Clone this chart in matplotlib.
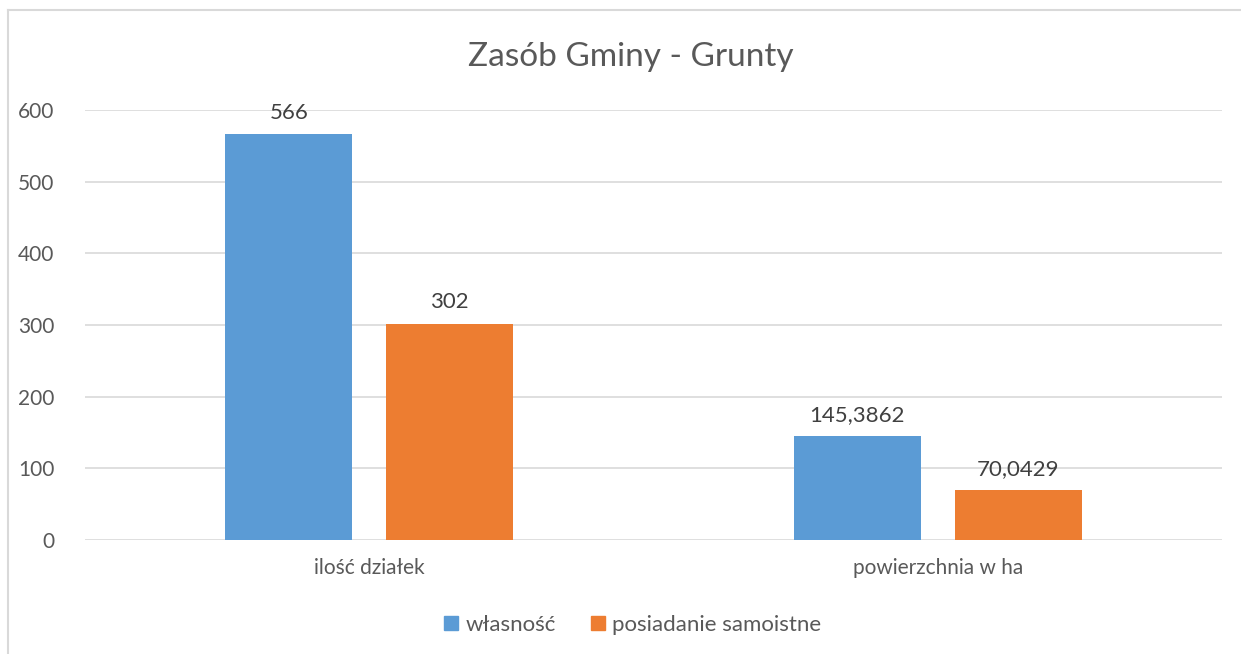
import matplotlib.pyplot as plt
import numpy as np
from matplotlib.lines import Line2D

kategorie = ['ilość działek', 'powierzchnia w ha']
wlasnosc = [566, 145.3862]
posiadanie = [302, 70.0429]
etykiety_wl = ['566', '145,3862']
etykiety_pos = ['302', '70,0429']
serie = ['własność', 'posiadanie samoistne']

plt.rcParams['font.family'] = ['Lato', 'DejaVu Sans']
szary = '#595959'

fig = plt.figure(figsize=(12.41, 6.54), dpi=100)
ax = fig.add_axes([0.0685, 0.1743, 0.9162, 0.6575])

x = np.arange(len(kategorie))
szer = 0.2234
b1 = ax.bar(x - 0.1416, wlasnosc, szer, color='#5B9BD5', label=serie[0], zorder=3)
b2 = ax.bar(x + 0.1416, posiadanie, szer, color='#ED7D31', label=serie[1], zorder=3)

ax.bar_label(b1, labels=etykiety_wl, padding=8, fontsize=16, color='#404040')
ax.bar_label(b2, labels=etykiety_pos, padding=8, fontsize=16, color='#404040')

ax.set_xlim(-0.5, 1.5)
ax.set_ylim(0, 600)
ax.set_yticks(range(0, 601, 100))
ax.set_xticks(x)
ax.set_xticklabels(kategorie)
ax.tick_params(axis='both', length=0, labelsize=15, labelcolor=szary)
ax.tick_params(axis='y', pad=22)
ax.tick_params(axis='x', pad=13)
ax.grid(axis='y', color='#D9D9D9', lw=1.2, zorder=0)
for s in ax.spines.values():
    s.set_visible(False)

fig.text(0.508, 0.913, 'Zasób Gminy - Grunty', ha='center', va='center',
         fontsize=24, color=szary)

uchwyty = [Line2D([], [], marker='s', ls='', markersize=10, color='#5B9BD5'),
           Line2D([], [], marker='s', ls='', markersize=10, color='#ED7D31')]
fig.legend(uchwyty, serie, loc='center', bbox_to_anchor=(0.510, 0.044), ncol=2,
           frameon=False, fontsize=16, labelcolor=szary, handlelength=0.6,
           handletextpad=0.35, columnspacing=1.6)

# ramka wykresu
fig.add_artist(Line2D([8 / 1241, 8 / 1241], [0, 1 - 10 / 654], color='#D9D9D9', lw=1.5))
fig.add_artist(Line2D([8 / 1241, 1], [1 - 10 / 654, 1 - 10 / 654], color='#D9D9D9', lw=1.5))

fig.savefig('out.png', dpi=100)
